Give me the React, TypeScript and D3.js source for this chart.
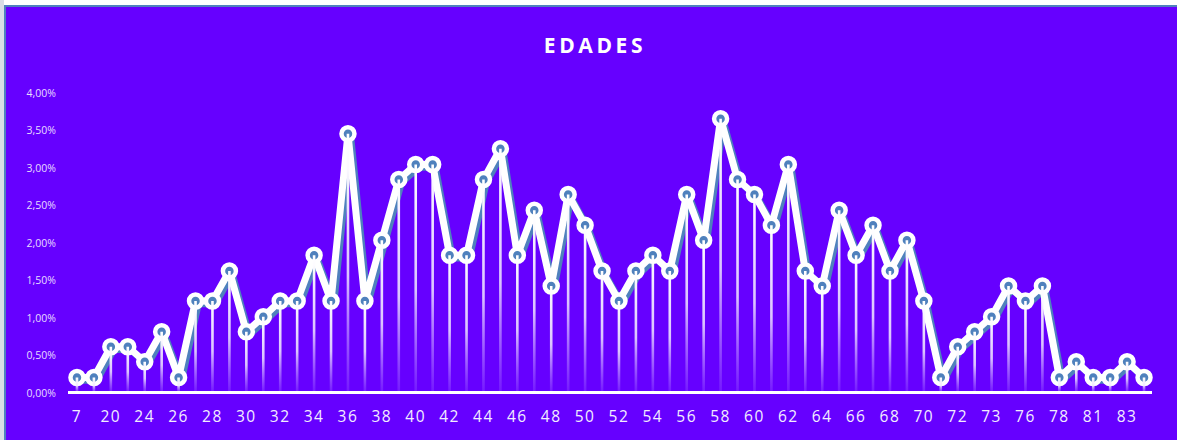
import React from "react";
import * as d3 from "d3";

const categories: string[] = [
  "7", "19", "20", "22", "24", "25", "26", "27", "28", "29",
  "30", "31", "32", "33", "34", "35", "36", "37", "38", "39",
  "40", "41", "42", "43", "44", "45", "46", "47", "48", "49",
  "50", "51", "52", "53", "54", "55", "56", "57", "58", "59",
  "60", "61", "62", "63", "64", "65", "66", "67", "68", "69",
  "70", "71", "72", "74", "73", "75", "76", "77", "78", "80",
  "81", "82", "83", "85",
];

// percentages
const values: number[] = [
  0.2, 0.2, 0.61, 0.61, 0.41, 0.81, 0.2, 1.22, 1.22, 1.62,
  0.81, 1.01, 1.22, 1.22, 1.83, 1.22, 3.45, 1.22, 2.03, 2.84,
  3.04, 3.04, 1.83, 1.83, 2.84, 3.25, 1.83, 2.43, 1.42, 2.64,
  2.23, 1.62, 1.22, 1.62, 1.83, 1.62, 2.64, 2.03, 3.65, 2.84,
  2.64, 2.23, 3.04, 1.62, 1.42, 2.43, 1.83, 2.23, 1.62, 2.03,
  1.22, 0.2, 0.61, 0.81, 1.01, 1.42, 1.22, 1.42, 0.2, 0.41,
  0.2, 0.2, 0.41, 0.2,
];

const yTicks: number[] = [0, 0.5, 1, 1.5, 2, 2.5, 3, 3.5, 4];
const title = "EDADES";

const W = 1177;
const H = 440;
const BG = "#6600FF";
const BLUE = "#4F81BD";

export default function App() {
  const x = d3
    .scaleBand<string>()
    .domain(categories)
    .range([68.5, 1152.5])
    .paddingInner(0)
    .paddingOuter(0);
  const y = d3.scaleLinear().domain([0, 4]).range([392.5, 92.5]);
  const cx = (c: string) => (x(c) ?? 0) + x.bandwidth() / 2;

  const pts: [number, number][] = categories.map((c, i) => [cx(c), y(values[i])]);
  const line = d3.line<[number, number]>().x((d) => d[0]).y((d) => d[1]);
  const pathD = line(pts) ?? "";
  const fmt = (v: number) => d3.format(".2f")(v).replace(".", ",") + "%";

  return (
    <div style={{ position: "absolute", left: 0, top: 0, width: W, height: H }}>
      <svg width={W} height={H} style={{ display: "block" }}>
        <defs>
          <linearGradient id="drop" x1="0" y1="0" x2="0" y2="1">
            <stop offset="0%" stopColor="#ffffff" stopOpacity={1} />
            <stop offset="55%" stopColor="#f0e6ff" stopOpacity={0.85} />
            <stop offset="100%" stopColor="#c9a8ff" stopOpacity={0.15} />
          </linearGradient>
        </defs>
        <rect x={0} y={0} width={W} height={H} fill="#ffffff" />
        <rect x={0} y={0} width={4} height={H} fill="#d9dde6" />
        <rect x={4} y={5} width={W - 4} height={H - 5} fill={BLUE} />
        <rect x={6} y={7} width={W - 6} height={H - 7} fill={BG} />

        <text
          x={595}
          y={53}
          textAnchor="middle"
          fill="#ffffff"
          fontFamily="'Open Sans', sans-serif"
          fontWeight={700}
          fontSize={21}
          letterSpacing={3.6}
        >
          {title}
        </text>

        {yTicks.map((t) => (
          <text
            key={t}
            x={56}
            y={y(t) + 4}
            textAnchor="end"
            fill="#e6dcff"
            fontFamily="'Open Sans', sans-serif"
            fontSize={10.5}
          >
            {fmt(t)}
          </text>
        ))}

        {categories.map((c, i) =>
          i % 2 === 0 ? (
            <text
              key={c}
              x={cx(c)}
              y={422}
              textAnchor="middle"
              fill="#f2ecff"
              fontFamily="'Open Sans', sans-serif"
              fontSize={15.5}
              letterSpacing={1.6}
            >
              {c}
            </text>
          ) : null
        )}

        {/* shadow line */}
        <path
          d={pathD}
          transform="translate(3,3)"
          fill="none"
          stroke={BLUE}
          strokeWidth={6.5}
          strokeLinejoin="round"
        />
        {/* main line */}
        <path d={pathD} fill="none" stroke="#ffffff" strokeWidth={7} strokeLinejoin="round" />

        {/* markers */}
        {pts.map((p, i) => (
          <circle
            key={"m" + i}
            cx={p[0]}
            cy={p[1]}
            r={6.5}
            fill={BLUE}
            stroke="#ffffff"
            strokeWidth={4.5}
          />
        ))}

        {/* drop lines */}
        {pts.map((p, i) => (
          <rect
            key={"d" + i}
            x={p[0] - 1.3}
            y={p[1]}
            width={2.6}
            height={Math.max(0, y(0) - p[1])}
            fill="url(#drop)"
          />
        ))}

        {/* baseline */}
        <line x1={68} x2={1152} y1={y(0)} y2={y(0)} stroke="#ffffff" strokeWidth={3} />
      </svg>
    </div>
  );
}
